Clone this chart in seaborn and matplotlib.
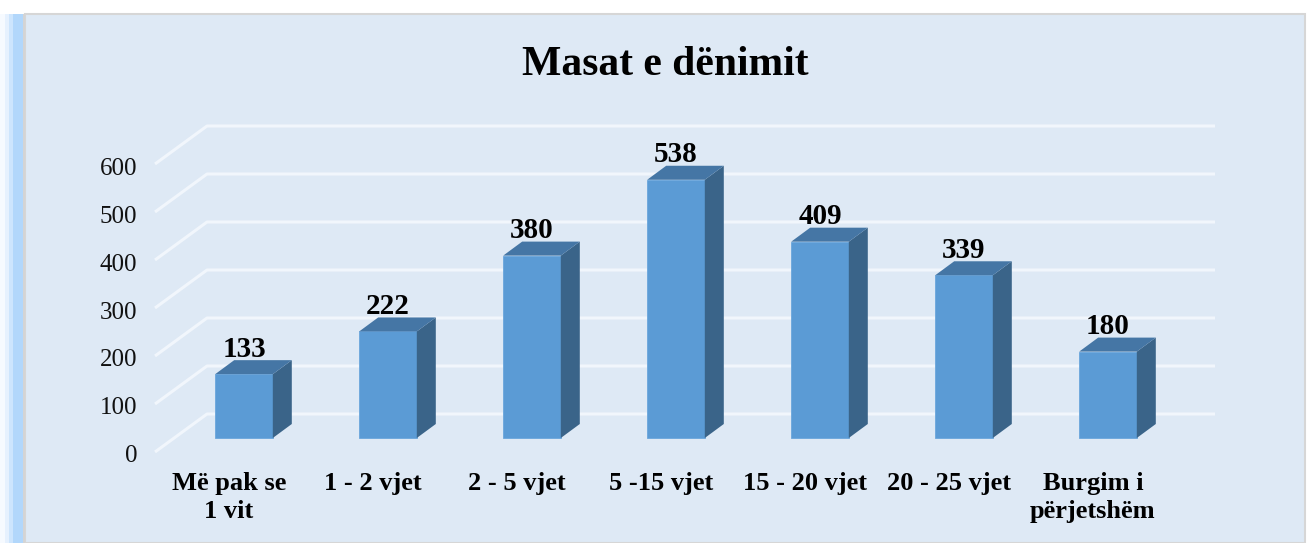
import matplotlib
matplotlib.use("Agg")
import matplotlib.pyplot as plt
from matplotlib.patches import Polygon, Rectangle
import seaborn as sns
import pandas as pd

categories = ["Më pak se\n1 vit", "1 - 2 vjet", "2 - 5 vjet", "5 -15 vjet",
              "15 - 20 vjet", "20 - 25 vjet", "Burgim i\npërjetshëm"]
values = [133, 222, 380, 538, 409, 339, 180]
y_ticks = [0, 100, 200, 300, 400, 500, 600]
title = "Masat e dënimit"

plt.rcParams['font.family'] = ['Liberation Serif', 'DejaVu Serif']

W, H = 1309, 543
fig = plt.figure(figsize=(W / 100, H / 100), dpi=100, facecolor="white")

# chart background panel and left stripe
fig.patches.append(Rectangle((25 / W, 0), 1280 / W, 1 - 14 / H, transform=fig.transFigure,
                             facecolor="#dee9f5", edgecolor="#d6d6d6", linewidth=1.5, zorder=-2))
for x0, x1, c in [(0, 5, "#f6faff"), (5, 9, "#e6f1fe"), (9, 13, "#cde5fd"), (13, 23, "#b2d7fb"),
                  (23, 25, "#d4d4d4")]:
    fig.patches.append(Rectangle((x0 / W, 0), (x1 - x0) / W, 1 - 14 / H, transform=fig.transFigure,
                                 facecolor=c, edgecolor="none", zorder=-2))

# axes: x in category units (center spacing 144px), y in values (0.48 px per unit)
ax = fig.add_axes([100 / W, 13 / H, 1160 / W, 430 / H])
ax.set_zorder(1)
ax.set_facecolor("none")
px_per_cat = 144.0
px_per_val = 0.48
xlim = ((100 - 244) / px_per_cat, (1260 - 244) / px_per_cat)
ylim = ((438 - 530) / px_per_val, (438 - 100) / px_per_val)

# perspective grid
back_dy = 24 / px_per_val
front_dy = -14 / px_per_val
front_x = (155 - 244) / px_per_cat
back_x0 = (207 - 244) / px_per_cat
back_x1 = (1215 - 244) / px_per_cat
grid_c = "#f1f6fc"
for t in y_ticks:
    ax.plot([front_x, back_x0, back_x1], [t + front_dy, t + back_dy, t + back_dy],
            color=grid_c, lw=2.2, zorder=1, solid_capstyle="butt")
    ax.text(front_x - 0.125, t + front_dy - 2 / px_per_val, f"{t}", ha="right",
            va="center_baseline", fontsize=18, color="#111111")

df = pd.DataFrame({"cat": categories, "val": values})
sns.barplot(data=df, x="cat", y="val", color="#5b9bd5", saturation=1, width=0.40,
            ax=ax, zorder=3, edgecolor="#6aa6dc", linewidth=0.6)
ax.set_xlim(*xlim)
ax.set_ylim(*ylim)
ax.axis("off")

ddx = 19 / px_per_cat
ddy = 14 / px_per_val
bars = [p for p in ax.patches]
for p, v in zip(bars, values):
    x = p.get_x(); w = p.get_width(); h = p.get_height()
    side = Polygon([(x + w, 0), (x + w + ddx, ddy), (x + w + ddx, h + ddy), (x + w, h)],
                   closed=True, facecolor="#3a6489", edgecolor="none", zorder=3)
    top = Polygon([(x, h), (x + ddx, h + ddy), (x + w + ddx, h + ddy), (x + w, h)],
                  closed=True, facecolor="#4576a5", edgecolor="none", zorder=3)
    ax.add_patch(side)
    ax.add_patch(top)
    ax.text(x + w / 2, v + 36, f"{v}", ha="center", va="baseline",
            fontsize=21, fontweight="bold", color="black", zorder=4)

label_dx = -15 / px_per_cat
for i, c in enumerate(categories):
    ax.text(i + label_dx, (438 - 472) / px_per_val, c, ha="center", va="top",
            fontsize=19, fontweight="bold", color="black", linespacing=1.3,
            clip_on=False)

fig.text(665 / W, 1 - 75 / H, title, ha="center", va="baseline",
         fontsize=30, fontweight="bold", color="black")

fig.savefig("out.png", dpi=100, facecolor="white")
